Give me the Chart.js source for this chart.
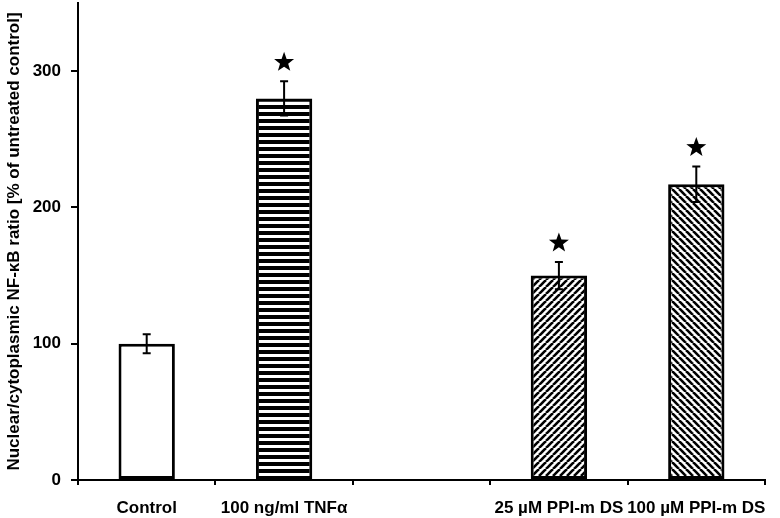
<!DOCTYPE html>
<html><head><meta charset="utf-8">
<script src="https://cdn.jsdelivr.net/npm/chart.js@4/dist/chart.umd.min.js"></script>
<style>html,body{margin:0;padding:0;background:#fff}</style>
</head><body>
<canvas id="c" width="780" height="518"></canvas>
<script>
const categories = ['Control', '100 ng/ml TNFα', '', '25 µM PPI-m DS', '100 µM PPI-m DS'];
const ratioValues = [100, 280, null, 150, 217];
const errorValues = [7, 12.5, null, 10, 13];
const significant = [false, true, false, true, true];
const yTickValues = [0, 100, 200, 300];
const fillKinds = ['plain', 'hstripe', 'none', 'diagUp', 'diagDown'];
const yTitle = 'Nuclear/cytoplasmic NF-κB ratio [% of untreated control]';

const FONT = "'Liberation Sans', Arial, Helvetica, sans-serif";
const canvas = document.getElementById('c');
const ctx = canvas.getContext('2d');

function makePattern(kind) {
  if (kind === 'plain') return '#ffffff';
  if (kind === 'none') return 'rgba(0,0,0,0)';
  const c = document.createElement('canvas');
  const g = c.getContext('2d');
  if (kind === 'hstripe') {
    c.width = 7; c.height = 7;
    g.fillStyle = '#fff'; g.fillRect(0, 0, 7, 7);
    g.fillStyle = '#000'; g.fillRect(0, 0, 7, 4);
  } else {
    const s = 7;
    c.width = s; c.height = s;
    g.fillStyle = '#fff'; g.fillRect(0, 0, s, s);
    g.strokeStyle = '#000'; g.lineWidth = 2.6;
    for (let k = -1; k <= 1; k++) {
      g.beginPath();
      if (kind === 'diagUp') { g.moveTo(k * s, s); g.lineTo(k * s + s, 0); }
      else { g.moveTo(k * s, 0); g.lineTo(k * s + s, s); }
      g.stroke();
    }
  }
  return ctx.createPattern(c, 'repeat');
}

function drawStar(g, cx, cy, R, r) {
  g.beginPath();
  for (let i = 0; i < 10; i++) {
    const rad = i % 2 === 0 ? R : r;
    const a = -Math.PI / 2 + i * Math.PI / 5;
    const x = cx + rad * Math.cos(a), y = cy + rad * Math.sin(a);
    if (i === 0) g.moveTo(x, y); else g.lineTo(x, y);
  }
  g.closePath();
  g.fill();
}

const errorBarPlugin = {
  id: 'errorBars',
  afterDatasetsDraw(chart) {
    const g = chart.ctx;
    const yS = chart.scales.y;
    const meta = chart.getDatasetMeta(0);
    g.save();
    g.strokeStyle = '#000';
    g.fillStyle = '#000';
    g.lineWidth = 2;
    ratioValues.forEach((v, i) => {
      if (v == null) return;
      const x = meta.data[i].x;
      const e = errorValues[i];
      const yTop = yS.getPixelForValue(v + e);
      const yBot = yS.getPixelForValue(v - e);
      const cap = 4;
      g.beginPath();
      g.moveTo(x, yTop); g.lineTo(x, yBot);
      g.moveTo(x - cap, yTop); g.lineTo(x + cap, yTop);
      g.moveTo(x - cap, yBot); g.lineTo(x + cap, yBot);
      g.stroke();
      if (significant[i]) drawStar(g, x, yTop - 19, 10.5, 4.3);
    });
    g.restore();
  }
};

new Chart(ctx, {
  type: 'bar',
  data: {
    labels: categories,
    datasets: [{
      data: ratioValues,
      backgroundColor: fillKinds.map(makePattern),
      borderColor: '#000',
      borderWidth: 3,
      borderSkipped: false,
      categoryPercentage: 1,
      barPercentage: 0.41
    }]
  },
  options: {
    responsive: false,
    animation: false,
    devicePixelRatio: 1,
    layout: { padding: { top: 3, right: 15, left: 0, bottom: 0 } },
    plugins: { legend: { display: false }, tooltip: { enabled: false } },
    scales: {
      x: {
        grid: { display: true, drawOnChartArea: false, drawTicks: true, tickLength: 5, color: '#000', lineWidth: 2, offset: true },
        border: { display: true, color: '#000', width: 2 },
        ticks: { color: '#000', font: { family: FONT, size: 17, weight: 'bold' }, padding: 13, maxRotation: 0, autoSkip: false },
        afterFit(s) { s.height = 38; s.paddingLeft = 0; s.paddingRight = 0; }
      },
      y: {
        min: 0, max: 350,
        afterBuildTicks(s) { s.ticks = yTickValues.map(v => ({ value: v })); },
        grid: { display: true, drawOnChartArea: false, drawTicks: true, tickLength: 7, color: '#000', lineWidth: 2 },
        border: { display: true, color: '#000', width: 2 },
        ticks: { color: '#000', font: { family: FONT, size: 17, weight: 'bold' }, padding: 10 },
        title: { display: true, text: yTitle, color: '#000', font: { family: FONT, size: 17, weight: 'bold' }, padding: { top: 4, bottom: 0 } },
        afterFit(s) { s.width = 78; s.paddingTop = 0; s.paddingBottom = 0; }
      }
    }
  },
  plugins: [errorBarPlugin]
});
</script>
</body></html>
